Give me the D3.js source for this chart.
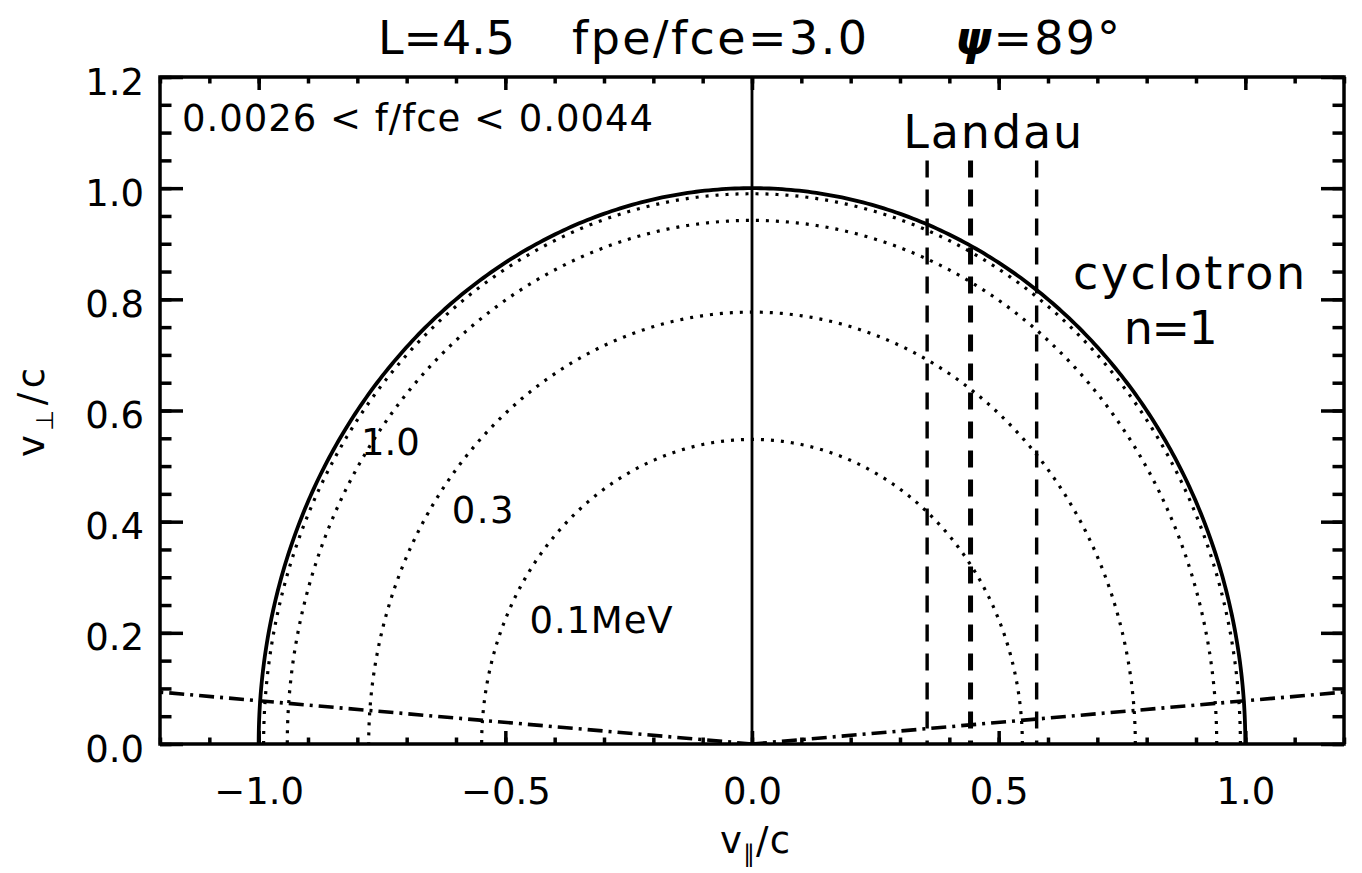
<!DOCTYPE html>
<html>
<head>
<meta charset="utf-8">
<script src="https://cdn.jsdelivr.net/npm/d3@7"></script>
<style>
  body { margin: 0; background: #fff; }
  text { font-family: "DejaVu Sans", "Liberation Sans", sans-serif; fill: #000; }
</style>
</head>
<body>
<div id="container"></div>
<script>
// axis ranges and tick labels
var xDomain = [-1.2, 1.2];
var yDomain = [0, 1.2];
var xMajorTicks = [-1.0, -0.5, 0.0, 0.5, 1.0];
var yMajorTicks = [0.0, 0.2, 0.4, 0.6, 0.8, 1.0, 1.2];

// constant energy circles (v/c radius)
var energyRadii = [0.548, 0.777, 0.942, 0.990];
// speed of light circle
var lightRadius = 1.0;
// Landau resonance velocities
var landauV = [0.355, 0.443, 0.577];
var landauTop = 1.05;
// loss cone angle in degrees
var lossConeDeg = 4.45;

// annotations: text, data x (centre), data y (baseline), size, width
var notes = [
  {t: "1.0", x: -0.733, y: 0.520, size: 37, w: 59},
  {t: "0.3", x: -0.546, y: 0.398, size: 37, w: 62},
  {t: "0.1MeV", x: -0.306, y: 0.200, size: 37, w: 143},
  {t: "Landau", x: 0.488, y: 1.072, size: 46, w: 179},
  {t: "cyclotron", x: 0.886, y: 0.818, size: 46, w: 232},
  {t: "n=1", x: 0.849, y: 0.719, size: 46, w: 94}
];

function createChart() {
  var width = 1362, height = 873;
  var left = 160, right = 1344, top = 77, bottom = 744;

  var svg = d3.select("#container").
  append("svg").
  attr("width", width).
  attr("height", height);

  var x = d3.scaleLinear().domain(xDomain).range([left, right]);
  var y = d3.scaleLinear().domain(yDomain).range([bottom, top]);

  var plot = svg.append("g");
  svg.append("clipPath").attr("id", "clip").
  append("rect").attr("x", left).attr("y", top).
  attr("width", right - left).attr("height", bottom - top);
  plot.attr("clip-path", "url(#clip)");

  var line = d3.line().x(function (d) {return x(d[0]);}).y(function (d) {return y(d[1]);});
  var angles = d3.range(0, 361).map(function (i) {return Math.PI * i / 360;});
  function arc(r) {
    return angles.map(function (a) {return [r * Math.cos(a), r * Math.sin(a)];});
  }

  // dotted energy circles
  plot.selectAll(".energy").
  data(energyRadii).
  enter().
  append("path").
  attr("class", "energy").
  attr("d", function (r) {return line(arc(r));}).
  attr("fill", "none").
  attr("stroke", "#000").
  attr("stroke-width", 3.2).
  attr("stroke-dasharray", "3,7");

  // v = c
  plot.append("path").
  attr("d", line(arc(lightRadius))).
  attr("fill", "none").
  attr("stroke", "#000").
  attr("stroke-width", 3.8);

  // v_par = 0 line
  plot.append("path").
  attr("d", line([[0, yDomain[0]], [0, yDomain[1]]])).
  attr("stroke", "#000").
  attr("stroke-width", 2.8);

  // Landau resonances
  plot.selectAll(".landau").
  data(landauV).
  enter().
  append("path").
  attr("class", "landau").
  attr("d", function (v) {return line([[v, landauTop], [v, 0]]);}).
  attr("stroke", "#000").
  attr("stroke-width", function (v, i) {return i == 1 ? 5 : 3.4;}).
  attr("stroke-dasharray", "17,12");

  // loss cone
  var slope = Math.tan(lossConeDeg * Math.PI / 180);
  [xDomain[0], xDomain[1]].forEach(function (xe) {
    plot.append("path").
    attr("d", line([[0, 0], [xe, Math.abs(xe) * slope]])).
    attr("fill", "none").
    attr("stroke", "#000").
    attr("stroke-width", 3.6).
    attr("stroke-dasharray", "15,6,3,6");
  });

  // axes with inward ticks on all sides
  var xMinor = x.ticks(24), yMinor = y.ticks(24);
  function styleAxis(g) {
    g.select(".domain").remove();
    g.selectAll("line").attr("stroke", "#000").attr("stroke-width", 3.5);
    g.selectAll("text").style("font-size", "37px").attr("font-family", null);
  }
  var fmt = d3.format(".1f");
  svg.append("g").attr("transform", "translate(0," + bottom + ")").
  call(d3.axisBottom(x).tickValues(xMinor).tickSize(-6.5).tickFormat("")).call(styleAxis);
  svg.append("g").attr("transform", "translate(0," + bottom + ")").
  call(d3.axisBottom(x).tickValues(xMajorTicks).tickSize(-13).tickPadding(34).tickFormat(fmt)).call(styleAxis);
  svg.append("g").attr("transform", "translate(0," + top + ")").
  call(d3.axisTop(x).tickValues(xMinor).tickSize(-6.5).tickFormat("")).call(styleAxis);
  svg.append("g").attr("transform", "translate(0," + top + ")").
  call(d3.axisTop(x).tickValues(xMajorTicks).tickSize(-13).tickFormat("")).call(styleAxis);

  svg.append("g").attr("transform", "translate(" + left + ",0)").
  call(d3.axisLeft(y).tickValues(yMinor).tickSize(-11.5).tickFormat("")).call(styleAxis);
  var yl = svg.append("g").attr("transform", "translate(" + left + ",0)").
  call(d3.axisLeft(y).tickValues(yMajorTicks).tickSize(-23).tickPadding(16).tickFormat(fmt)).call(styleAxis);
  yl.selectAll("text").attr("dy", "0.46em");
  svg.append("g").attr("transform", "translate(" + right + ",0)").
  call(d3.axisRight(y).tickValues(yMinor).tickSize(-11.5).tickFormat("")).call(styleAxis);
  svg.append("g").attr("transform", "translate(" + right + ",0)").
  call(d3.axisRight(y).tickValues(yMajorTicks).tickSize(-23).tickFormat("")).call(styleAxis);

  // frame
  svg.append("rect").
  attr("x", left).attr("y", top).
  attr("width", right - left).attr("height", bottom - top).
  attr("fill", "none").
  attr("stroke", "#000").
  attr("stroke-width", 3.5);

  // annotations
  svg.selectAll(".note").
  data(notes).
  enter().
  append("text").
  attr("class", "note").
  attr("x", function (d) {return x(d.x) - d.w / 2;}).
  attr("y", function (d) {return y(d.y);}).
  attr("textLength", function (d) {return d.w;}).
  attr("lengthAdjust", "spacing").
  style("font-size", function (d) {return d.size + "px";}).
  text(function (d) {return d.t;});

  svg.append("text").
  attr("x", 182).attr("y", 131).
  attr("textLength", 471).
  attr("lengthAdjust", "spacing").
  style("font-size", "37px").
  style("white-space", "pre").
  text("0.0026 < f/fce < 0.0044");

  // title in three parts
  svg.append("text").
  attr("x", 378).attr("y", 54).
  attr("textLength", 137).attr("lengthAdjust", "spacing").
  style("font-size", "46px").
  text("L=4.5");
  svg.append("text").
  attr("x", 572).attr("y", 54).
  attr("textLength", 295).attr("lengthAdjust", "spacing").
  style("font-size", "46px").
  text("fpe/fce=3.0");
  var psi = svg.append("text").
  attr("x", 955).attr("y", 54).
  attr("textLength", 165).attr("lengthAdjust", "spacing").
  style("font-size", "46px");
  psi.append("tspan").style("font-weight", "bold").style("font-style", "italic").text("ψ");
  psi.append("tspan").text("=89°");

  // axis titles
  var xt = svg.append("text").
  attr("x", 720).attr("y", 853).
  attr("textLength", 70).attr("lengthAdjust", "spacing").
  style("font-size", "37px");
  xt.append("tspan").text("v");
  xt.append("tspan").attr("dy", 9).style("font-size", "24px").text("∥");
  xt.append("tspan").attr("dy", -9).text("/c");

  var yt = svg.append("text").
  attr("transform", "translate(44,457) rotate(-90)").
  attr("textLength", 89).attr("lengthAdjust", "spacing").
  style("font-size", "37px");
  yt.append("tspan").text("v");
  yt.append("tspan").attr("dy", 9).style("font-size", "24px").text("⊥");
  yt.append("tspan").attr("dy", -9).text("/c");
}

window.onload = function () {
  createChart();
};
</script>
</body>
</html>
